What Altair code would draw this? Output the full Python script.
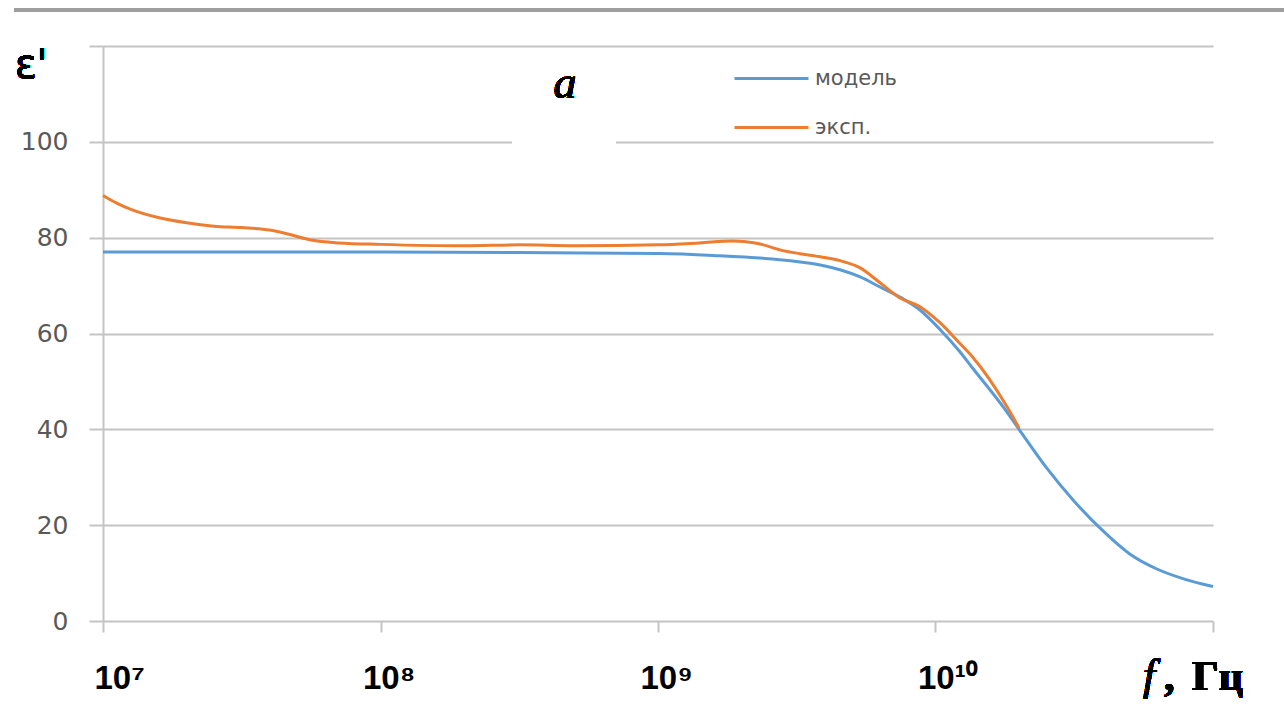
import altair as alt
import pandas as pd

# Frequencies (Hz) and permittivity values for both curves
model_freq = [1.0e7, 3.16e7, 1.0e8, 3.16e8, 1.0e9, 1.58e9, 2.51e9, 3.84e9, 4.53e9,
              5.35e9, 6.31e9, 7.45e9, 8.79e9, 1.04e10, 1.22e10, 1.36e10, 1.81e10,
              2.0e10, 2.51e10, 3.16e10, 3.98e10, 5.01e10, 6.31e10, 7.94e10, 1.0e11]
model_eps = [77.0, 77.0, 77.0, 76.9, 76.7, 76.3, 75.6, 74.3, 73.3,
             71.8, 69.7, 67.6, 64.9, 60.8, 56.3, 52.8, 43.6,
             40.0, 32.0, 25.0, 19.0, 14.0, 10.8, 8.7, 7.2]

exp_freq = [1.0e7, 1.12e7, 1.26e7, 1.58e7, 2.0e7, 2.51e7, 3.16e7, 3.98e7, 4.68e7,
            5.62e7, 7.08e7, 1.0e8, 2.0e8, 3.16e8, 5.01e8, 1.0e9, 1.41e9, 1.86e9,
            2.24e9, 2.82e9, 3.84e9, 4.53e9, 5.35e9, 6.31e9, 7.45e9, 8.79e9,
            1.04e10, 1.22e10, 1.36e10, 1.81e10, 2.0e10]
exp_eps = [88.8, 87.2, 85.9, 84.2, 83.1, 82.4, 82.1, 81.6, 80.7,
           79.5, 78.9, 78.6, 78.3, 78.5, 78.3, 78.5, 78.9, 79.3,
           78.9, 77.3, 76.0, 75.2, 73.7, 70.6, 67.4, 65.6,
           62.2, 58.0, 55.1, 44.7, 40.3]

series_names = ["модель", "эксп."]
series_colors = ["#5B9BD5", "#ED7D31"]

x_ticks = [1e7, 1e8, 1e9, 1e10, 1e11]
x_tick_labels = ["10⁷", "10⁸", "10⁹", "10¹⁰", ""]
y_ticks = [0, 20, 40, 60, 80, 100, 120]

df = pd.concat([
    pd.DataFrame({"freq": model_freq, "eps": model_eps, "series": series_names[0]}),
    pd.DataFrame({"freq": exp_freq, "eps": exp_eps, "series": series_names[1]}),
])

W, H = 1110, 575
GRID = "#c4c4c4"

label_array = "[" + ",".join("'" + s + "'" for s in x_tick_labels) + "]"
x_label_expr = label_array + "[round(log(datum.value) / LN10) - 7]"

lines = alt.Chart(df).mark_line(strokeWidth=3, interpolate="monotone").encode(
    x=alt.X("freq:Q",
            scale=alt.Scale(type="log", domain=[1e7, 1e11], nice=False),
            axis=alt.Axis(values=x_ticks, labelExpr=x_label_expr, grid=False,
                          domain=False, tickColor=GRID, tickWidth=2, tickSize=11,
                          labelFont="Liberation Sans", labelFontWeight="bold",
                          labelFontSize=33, labelColor="black", labelAlign="left",
                          labelOffset={"condition": {"test": "datum.value == 1e7",
                                                     "value": -9},
                                       "value": -18},
                          labelPadding=30, labelFlush=False,
                          labelOverlap=False, title=None)),
    y=alt.Y("eps:Q",
            scale=alt.Scale(domain=[0, 120], nice=False),
            axis=alt.Axis(values=y_ticks,
                          labelExpr="datum.value == 120 ? '' : datum.label",
                          grid=True, gridColor=GRID, gridWidth=2,
                          domainColor=GRID, domainWidth=2,
                          tickColor=GRID, tickWidth=2, tickSize=14,
                          labelPadding=21, labelFont="DejaVu Sans",
                          labelFontSize=25, labelColor="#595959", title=None)),
    color=alt.Color("series:N",
                    scale=alt.Scale(domain=series_names, range=series_colors),
                    legend=alt.Legend(orient="none", legendX=630, legendY=-6,
                                      title=None, symbolType="stroke",
                                      symbolSize=5476, symbolStrokeWidth=3,
                                      labelFont="DejaVu Sans", labelFontSize=21,
                                      labelColor="#595959", labelOffset=5,
                                      rowPadding=0, padding=0)),
)

# white patch behind the panel letter, breaking the 100 grid line
patch = alt.Chart(df).mark_rect(fill="white").encode(
    x=alt.value(409), x2=alt.value(513), y=alt.value(30), y2=alt.value(99)
)

panel_letter = alt.Chart(df).mark_text(
    text="а", font="Liberation Serif", fontStyle="italic", fontSize=46,
    align="center", baseline="alphabetic", color="black"
).encode(x=alt.value(462), y=alt.value(52))

y_title = alt.Chart(df).mark_text(
    text="ε'", font="DejaVu Sans", fontSize=40, align="left",
    baseline="alphabetic", color="black"
).encode(x=alt.value(-88), y=alt.value(32))

x_title_f = alt.Chart(df).mark_text(
    text="f", font="Liberation Serif", fontStyle="italic",
    fontSize=44, align="left", baseline="alphabetic", color="black"
).encode(x=alt.value(1040), y=alt.value(644))

x_title_comma = alt.Chart(df).mark_text(
    text=",", font="Liberation Serif", fontWeight="bold",
    fontSize=42, align="left", baseline="alphabetic", color="black"
).encode(x=alt.value(1061), y=alt.value(644))

x_title_unit = alt.Chart(df).mark_text(
    text="Гц", font="Liberation Serif", fontWeight="bold",
    fontSize=42, align="left", baseline="alphabetic", color="black"
).encode(x=alt.value(1089), y=alt.value(644))

top_rule = alt.Chart(df).mark_rule(color="#9e9e9e", strokeWidth=3).encode(
    x=alt.value(-89), x2=alt.value(1181), y=alt.value(-36)
)

chart = alt.layer(
    patch, lines, panel_letter, y_title, x_title_f, x_title_comma,
    x_title_unit, top_rule
).properties(
    width=W, height=H,
    padding={"left": 103, "top": 46, "right": 71, "bottom": 83},
    autosize=alt.AutoSizeParams(type="none"),
    background="white",
).configure_view(stroke=None)

chart.save("out.html", embed_options={"renderer": "svg", "actions": False})
